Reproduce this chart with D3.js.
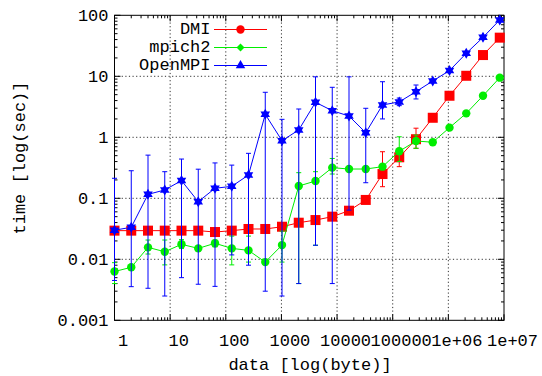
<!DOCTYPE html>
<html><head><meta charset="utf-8">
<script src="https://cdn.jsdelivr.net/npm/d3@7"></script>
<style>
body{margin:0;background:#fff}
svg{display:block}
text{font-family:"Liberation Mono","DejaVu Sans Mono",monospace;font-size:17px;fill:#000}
</style>
</head><body>
<svg id="c" width="542" height="376"></svg>
<script>
// ---- data ----
const sizes = [1,2,4,8,16,32,64,128,256,512,1024,2048,4096,8192,16384,32768,65536,131072,262144,524288,1048576,2097152,4194304,8388608];

const dmiVal  = [0.0295,0.0295,0.0295,0.0295,0.0295,0.0295,0.028,0.0295,0.0314,0.0314,0.0342,0.0398,0.044,0.05,0.0626,0.094,0.25,0.47,0.93,2.09,4.8,10.2,22.3,43];
const dmiLow  = [0.0295,0.0295,0.0295,0.0295,0.0295,0.0295,0.028,0.0295,0.0314,0.0314,0.0342,0.0398,0.044,0.05,0.0626,0.094,0.155,0.33,0.66,2.09,4.8,10.2,22.3,43];
const dmiHigh = [0.0295,0.0295,0.0295,0.0295,0.0295,0.0295,0.028,0.0295,0.0314,0.0314,0.0342,0.0398,0.044,0.05,0.0626,0.094,0.58,0.66,1.41,2.09,4.8,10.2,22.3,43];

const mpiVal  = [0.0063,0.0074,0.0157,0.0133,0.0176,0.0151,0.0183,0.0151,0.014,0.009,0.0171,0.159,0.192,0.318,0.302,0.302,0.33,0.59,0.87,0.83,1.44,2.47,4.8,9.5];
const mpiLow  = [0.004,0.0068,0.0122,0.0081,0.015,0.014,0.016,0.0081,0.009,0.0085,0.009,0.004,0.017,0.25,0.29,0.29,0.31,0.4,0.66,0.83,1.44,2.47,4.8,9.5];
const mpiHigh = [0.0088,0.008,0.0207,0.0207,0.021,0.0165,0.0207,0.024,0.024,0.0095,0.029,0.263,0.273,0.45,0.32,0.32,0.35,1.02,1.09,0.83,1.44,2.47,4.8,9.5];

const ompVal  = [0.030,0.0335,0.116,0.137,0.195,0.088,0.146,0.157,0.241,2.38,0.88,1.32,3.75,2.73,2.23,1.19,3.39,3.8,5.6,8.37,12.4,23.8,43.5,84];
const ompLow  = [0.0045,0.00356,0.00335,0.0025,0.005,0.0039,0.0036,0.0118,0.008,0.003,0.0025,0.004,0.017,0.004,0.064,0.18,2.0,3.3,4.25,8.0,12.4,23.8,43.5,84];
const ompHigh = [0.213,0.283,0.51,0.273,0.44,0.30,0.38,0.35,0.546,5.47,1.97,2.91,9.8,6.6,9.8,2.99,8.15,4.4,7.2,8.8,12.4,23.8,43.5,84];

const xTickVals   = [1,10,100,1000,10000,100000,1000000,10000000];
const xTickLabels = ["1","10","100","1000","10000","100000","1e+06","1e+07"];
const yTickVals   = [0.001,0.01,0.1,1,10,100];
const yTickLabels = ["0.001","0.01","0.1","1","10","100"];
const seriesNames = ["DMI","mpich2","OpenMPI"];

// ---- layout ----
const L = 114.5, R = 504, T = 15.3, B = 320.3;
const svg = d3.select("#c");
const x = d3.scaleLog().domain([1, 1e7]).range([L, R]);
const y = d3.scaleLog().domain([0.001, 100]).range([B, T]);

// grid
const g = svg.append("g");
xTickVals.slice(1, -1).forEach(v => {
  g.append("line").attr("x1", x(v)).attr("x2", x(v)).attr("y1", T).attr("y2", B)
   .attr("stroke", "#333").attr("stroke-width", 1).attr("stroke-dasharray", "1.2,2.4");
});
yTickVals.slice(1, -1).forEach(v => {
  g.append("line").attr("x1", L).attr("x2", R).attr("y1", y(v)).attr("y2", y(v))
   .attr("stroke", "#333").attr("stroke-width", 1).attr("stroke-dasharray", "1.2,2.4");
});

// ticks (inside, mirrored)
function minors(lo, hi) {
  const out = [];
  for (let d = lo; d < hi; d *= 10) for (let k = 2; k <= 9; k++) out.push(d * k);
  return out;
}
const tk = svg.append("g").attr("stroke", "#000").attr("stroke-width", 1);
xTickVals.forEach(v => {
  tk.append("line").attr("x1", x(v)).attr("x2", x(v)).attr("y1", B).attr("y2", B - 6);
  tk.append("line").attr("x1", x(v)).attr("x2", x(v)).attr("y1", T).attr("y2", T + 6);
});
minors(1, 1e7).forEach(v => {
  tk.append("line").attr("x1", x(v)).attr("x2", x(v)).attr("y1", B).attr("y2", B - 3);
  tk.append("line").attr("x1", x(v)).attr("x2", x(v)).attr("y1", T).attr("y2", T + 3);
});
yTickVals.forEach(v => {
  tk.append("line").attr("x1", L).attr("x2", L + 6).attr("y1", y(v)).attr("y2", y(v));
  tk.append("line").attr("x1", R).attr("x2", R - 6).attr("y1", y(v)).attr("y2", y(v));
});
minors(0.001, 100).forEach(v => {
  tk.append("line").attr("x1", L).attr("x2", L + 3).attr("y1", y(v)).attr("y2", y(v));
  tk.append("line").attr("x1", R).attr("x2", R - 3).attr("y1", y(v)).attr("y2", y(v));
});

// border
svg.append("rect").attr("x", L).attr("y", T).attr("width", R - L).attr("height", B - T)
  .attr("fill", "none").attr("stroke", "#000").attr("stroke-width", 1);

// tick labels
xTickVals.forEach((v, i) => {
  svg.append("text").attr("x", x(v) + 8.5).attr("y", 341).attr("text-anchor", "middle")
    .attr("dominant-baseline", "central").text(xTickLabels[i]);
});
yTickVals.forEach((v, i) => {
  svg.append("text").attr("x", 108.5).attr("y", y(v) + 1.5).attr("text-anchor", "end")
    .attr("dominant-baseline", "central").text(yTickLabels[i]);
});

// axis titles
svg.append("text").attr("x", 310).attr("y", 365).attr("text-anchor", "middle")
  .attr("dominant-baseline", "central").text("data [log(byte)]");
svg.append("text").attr("transform", "translate(20,158) rotate(-90)").attr("text-anchor", "middle")
  .attr("dominant-baseline", "central").text("time [log(sec)]");

// markers
function hexagram(cx, cy, r) {
  const pt = a => [cx + r * Math.cos(a * Math.PI / 180), cy + r * Math.sin(a * Math.PI / 180)];
  const t1 = [-90, 30, 150].map(pt), t2 = [90, 210, 330].map(pt);
  return "M" + t1.join("L") + "Z M" + t2.join("L") + "Z";
}
function triangle(cx, cy, r) {
  const pt = a => [cx + r * Math.cos(a * Math.PI / 180), cy + r * Math.sin(a * Math.PI / 180)];
  return "M" + [-90, 30, 150].map(pt).join("L") + "Z";
}

const series = [
  {name: seriesNames[0], v: dmiVal, lo: dmiLow, hi: dmiHigh, color: "#ff0000", mark: "square", leg: "circle"},
  {name: seriesNames[1], v: mpiVal, lo: mpiLow, hi: mpiHigh, color: "#00ee00", mark: "circle", leg: "diamond"},
  {name: seriesNames[2], v: ompVal, lo: ompLow, hi: ompHigh, color: "#0000ff", mark: "star", leg: "triangle"}
];

const line = d3.line().x(d => x(d[0])).y(d => y(d[1]));

function drawMark(sel, type, cx, cy, color) {
  if (type === "square") sel.append("rect").attr("x", cx - 5).attr("y", cy - 5).attr("width", 10).attr("height", 10).attr("fill", color);
  else if (type === "circle") sel.append("circle").attr("cx", cx).attr("cy", cy).attr("r", 4.2).attr("fill", color);
  else if (type === "star") sel.append("path").attr("d", hexagram(cx, cy, 5.5)).attr("fill", color);
  else if (type === "diamond") sel.append("path").attr("d", `M${cx},${cy-4}L${cx+4},${cy}L${cx},${cy+4}L${cx-4},${cy}Z`).attr("fill", color);
  else if (type === "triangle") sel.append("path").attr("d", triangle(cx, cy, 5.5)).attr("fill", color);
}

series.forEach((s, si) => {
  const gs = svg.append("g");
  // error bars
  sizes.forEach((sz, i) => {
    if (s.hi[i] > s.lo[i]) {
      const cx = x(sz), y1 = y(s.lo[i]), y2 = y(s.hi[i]);
      gs.append("line").attr("x1", cx).attr("x2", cx).attr("y1", y1).attr("y2", y2).attr("stroke", s.color).attr("stroke-width", 1);
      gs.append("line").attr("x1", cx - 2.5).attr("x2", cx + 2.5).attr("y1", y1).attr("y2", y1).attr("stroke", s.color).attr("stroke-width", 1);
      gs.append("line").attr("x1", cx - 2.5).attr("x2", cx + 2.5).attr("y1", y2).attr("y2", y2).attr("stroke", s.color).attr("stroke-width", 1);
    }
  });
  // line
  gs.append("path").datum(sizes.map((sz, i) => [sz, s.v[i]])).attr("d", line)
    .attr("fill", "none").attr("stroke", s.color).attr("stroke-width", 1);
  // points
  sizes.forEach((sz, i) => drawMark(gs, s.mark, x(sz), y(s.v[i]), s.color));

  // legend
  const ly = 29.5 + si * 18;
  svg.append("text").attr("x", 210.5).attr("y", ly).attr("text-anchor", "end")
    .attr("dominant-baseline", "central").text(s.name);
  svg.append("line").attr("x1", 214).attr("x2", 267).attr("y1", ly).attr("y2", ly)
    .attr("stroke", s.color).attr("stroke-width", 1);
  drawMark(svg, s.leg, 240.5, ly, s.color);
});
</script>
</body></html>
